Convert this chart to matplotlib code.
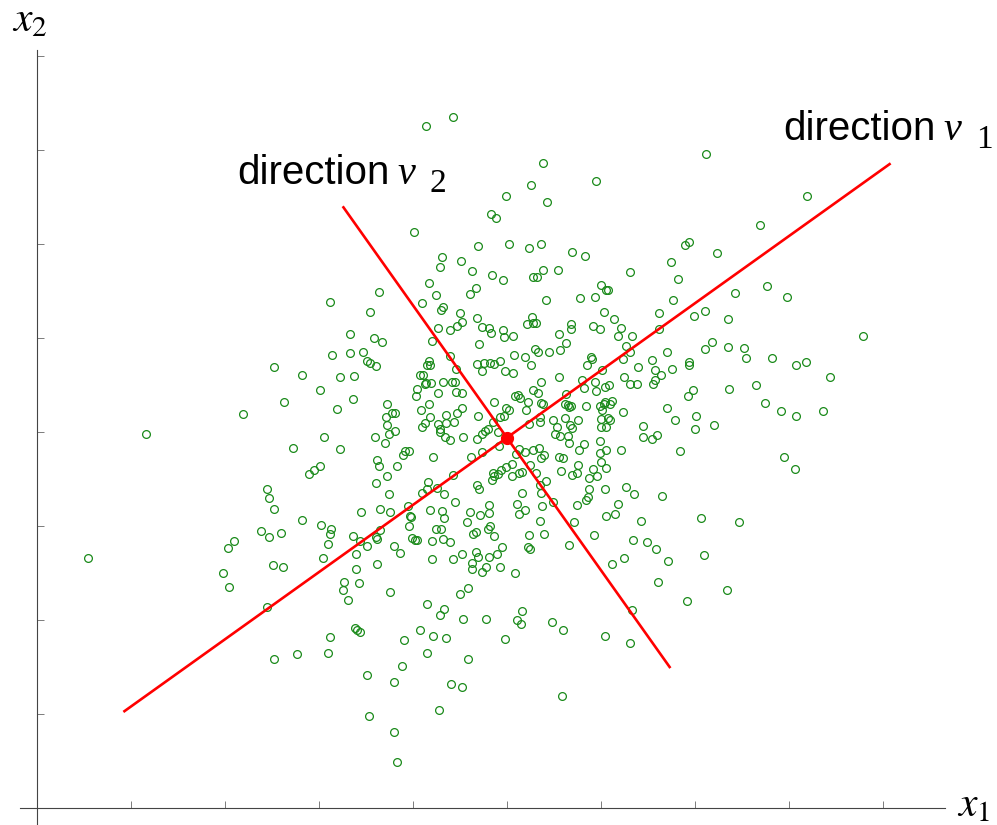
import numpy as np
import matplotlib.pyplot as plt

plt.rcParams['font.family'] = ['Liberation Sans', 'DejaVu Sans']
plt.rcParams['mathtext.fontset'] = 'stix'

# scatter sample (x1, x2), tick spacing = 1 unit
x1 = [4.14, 4.43, 4.01, 4.31, 4.51, 4.29, 4.17, 4.63, 3.64, 3.12, 3.54, 4.10, 4.24, 4.61, 4.32, 4.30, 4.50, 4.52, 4.47, 4.27, 4.39,
      5.38, 5.95, 5.26, 5.43, 4.99, 4.83, 4.88, 4.69, 5.02, 5.23, 5.36, 5.69, 5.83, 6.31, 6.74, 4.84, 4.96, 5.28, 5.32, 5.38, 5.54,
      4.67, 6.00, 6.05, 6.07, 5.94, 5.78, 5.41, 6.03, 6.14, 6.62, 6.77, 4.68, 5.27, 5.21, 5.28, 5.31, 4.73, 4.81, 4.96, 5.68, 5.68,
      5.91, 5.99, 6.21, 6.62,
      7.12, 8.19, 7.69, 6.89, 6.94, 7.23, 6.82, 7.43, 7.77, 7.98, 6.99, 7.11, 7.35,
      1.16, 2.19, 2.45, 2.47, 2.38, 2.47, 2.10, 2.03, 0.54, 1.98, 2.04, 2.45,
      2.51, 2.62, 3.39, 3.62, 3.27, 3.26, 3.43, 3.31, 3.76, 4.50, 4.59, 4.15, 4.33, 4.29, 4.53, 3.38, 3.40, 3.44, 3.12, 3.90, 4.07,
      4.21, 4.35, 2.52, 2.77, 3.10, 4.15, 3.88, 3.51, 3.80, 4.59, 4.40, 4.52, 4.28, 3.53, 3.80, 3.83,
      4.63, 4.63, 4.78, 4.93, 4.73, 5.09, 6.12, 6.24, 6.71, 6.61, 6.33, 6.31, 6.04, 5.16, 5.11, 5.15, 4.78, 5.48, 5.60, 4.98, 5.59,
      7.34, 6.91,
      8.79, 7.18, 7.11, 7.35, 7.52, 7.54, 7.82, 8.07, 8.18, 8.44, 6.94, 6.94, 6.76, 6.98, 6.93, 7.36, 7.65, 7.74, 7.91, 8.07, 8.36,
      6.79, 7.01, 7.00, 7.20, 6.84, 7.95, 8.06, 7.06, 7.47, 7.10,
      3.33, 3.59, 3.67, 4.20, 3.14, 3.33, 3.47, 3.51, 3.54, 3.61, 2.52, 2.82, 3.22, 3.37, 3.01, 3.36, 2.63, 3.19, 4.39, 4.17, 4.18,
      4.15, 4.46, 4.07, 4.11, 4.14, 4.13, 4.19, 4.32, 4.41, 4.45, 4.04, 4.27, 4.46, 4.52, 4.03, 4.17, 3.72, 3.78, 3.81, 4.09, 4.18,
      4.52, 4.35, 4.47, 3.71, 3.72, 3.81, 3.74, 4.13, 4.10, 4.27, 4.35, 4.44, 4.29, 4.29, 4.34, 4.39, 4.53, 3.05, 3.60, 3.70, 2.72,
      3.22, 3.89, 3.91, 3.96, 4.21, 4.62, 3.62, 3.64, 3.83, 3.01, 2.95, 2.89, 3.72, 3.61, 4.16, 4.15, 4.10, 4.26, 4.33, 4.43, 3.74,
      4.45, 2.52, 3.95, 4.18, 4.31, 4.33, 4.61, 3.65, 3.76, 3.45, 3.97, 3.98, 3.96, 4.57, 2.82, 3.02, 3.13, 3.12, 2.60, 3.65, 4.24,
      4.30, 3.36, 3.61, 3.62, 3.99, 4.02, 4.04, 4.20, 4.32, 4.39, 3.44, 3.10, 3.51, 3.80, 3.86, 3.39, 3.04, 4.20, 4.43, 4.52,
      4.70, 4.83, 4.97, 5.06, 5.55, 5.63, 5.56, 5.45, 5.30, 5.33, 5.19, 5.07, 5.26, 4.68, 4.76, 4.82, 4.86, 4.93, 4.73, 4.98, 5.06,
      6.18, 6.33, 6.27, 6.31, 5.89, 5.90, 5.85, 6.23, 6.01, 5.55, 5.80, 5.94, 6.24, 6.31, 6.38, 6.54, 6.70, 6.39, 6.57, 6.64, 6.57,
      6.55, 5.36, 5.28, 5.33, 5.82, 5.95, 6.04, 6.09, 5.09, 5.12, 5.14, 4.86, 5.22, 5.36, 5.38, 5.63, 5.62, 5.65, 5.68, 5.66, 5.84,
      5.99, 6.03, 6.04, 6.12, 6.10, 6.01, 6.23, 6.70, 4.99, 5.02, 5.20, 4.69, 4.93, 4.97, 5.35, 4.85, 5.49, 5.62, 5.76, 6.00, 6.07,
      6.10, 5.23, 5.35, 5.67, 5.69, 5.53, 6.00, 6.05, 4.80, 4.77, 4.73, 4.68, 4.90, 5.51, 5.56, 5.65, 6.45, 6.45, 6.54, 6.60, 5.99,
      5.66, 5.82, 4.91, 6.05, 6.21, 5.77, 5.13, 5.19, 5.28, 5.34, 5.10, 5.39, 5.36, 5.55, 5.60, 5.99, 6.00, 4.73, 5.24, 5.76, 6.05,
      4.99, 4.94, 5.05, 4.90, 4.85, 4.86, 5.05, 5.13, 5.16, 5.31, 5.57, 5.69, 5.74, 5.91, 5.96, 5.87, 5.41, 5.35, 4.84, 4.68, 4.70,
      5.16, 5.36, 5.86, 5.84, 5.87, 6.04, 6.27, 6.35, 6.65, 5.49, 5.11, 4.81, 5.37, 5.74, 6.18, 5.19, 5.13, 4.71, 4.81, 6.15, 6.05,
      6.43, 5.35, 5.71, 4.82, 4.80, 4.67, 4.64, 4.86, 5.39, 5.23, 5.93, 6.34, 6.49, 6.59, 5.66, 5.22, 5.24, 4.95, 4.89, 4.81, 4.69,
      4.67]
x2 = [7.26, 7.35, 6.13, 5.86, 5.82, 5.76, 5.59, 5.71, 5.49, 5.38, 5.28, 5.37, 5.46, 5.47, 5.33, 5.30, 5.27, 5.17, 5.13, 5.11, 5.09,
      6.86, 6.67, 6.63, 6.45, 6.51, 6.32, 6.28, 5.98, 6.00, 5.96, 6.00, 5.91, 5.87, 5.70, 5.81, 5.67, 5.62, 5.65, 5.65, 5.72, 5.72,
      5.53, 5.56, 5.51, 5.51, 5.44, 5.43, 5.40, 5.28, 5.20, 5.27, 5.40, 5.21, 5.22, 5.15, 5.16, 5.16, 5.12, 5.11, 5.09, 5.15, 5.10,
      5.13, 5.10, 5.11, 5.10,
      6.96, 6.51, 6.20, 5.99, 6.02, 5.90, 5.63, 5.48, 5.55, 5.44, 5.23, 5.29, 5.20,
      3.98, 4.19, 3.39, 3.30, 2.95, 2.88, 2.84, 2.77, 2.66, 2.50, 2.35, 2.14,
      2.59, 2.56, 2.54, 2.60, 2.40, 2.32, 2.39, 2.21, 2.30, 2.28, 2.34, 2.17, 2.12, 2.05, 2.01, 1.91, 1.89, 1.87, 1.82, 1.79, 1.89,
      1.83, 1.81, 1.59, 1.64, 1.65, 1.65, 1.51, 1.41, 1.34, 1.59, 1.32, 1.29, 1.04, 0.98, 0.81, 0.49,
      2.61, 2.54, 2.56, 2.56, 2.51, 2.50, 2.60, 2.66, 2.63, 2.40, 2.11, 1.76, 1.83, 2.10, 2.00, 1.96, 2.01, 1.98, 1.89, 1.80, 1.19,
      2.32, 2.20,
      5.02, 4.96, 4.88, 4.90, 4.89, 4.79, 4.79, 4.71, 4.74, 4.59, 4.74, 4.71, 4.67, 4.45, 4.38, 4.46, 4.50, 4.31, 4.22, 4.17, 4.22,
      4.13, 4.17, 4.03, 4.07, 3.80, 3.73, 3.61, 3.09, 3.04, 2.69,
      5.04, 5.00, 4.96, 4.97, 4.82, 4.84, 4.85, 4.76, 4.73, 4.70, 4.69, 4.61, 4.59, 4.60, 4.45, 4.35, 4.32, 4.24, 4.81, 4.76, 4.71,
      4.71, 4.67, 4.61, 4.61, 4.52, 4.51, 4.52, 4.53, 4.53, 4.53, 4.46, 4.41, 4.43, 4.41, 4.38, 4.30, 4.30, 4.20, 4.20, 4.23, 4.16,
      4.26, 4.18, 4.20, 4.16, 4.07, 4.01, 3.98, 4.10, 4.05, 4.09, 4.10, 4.11, 4.03, 4.00, 3.95, 3.91, 3.95, 3.95, 3.95, 3.88, 3.83,
      3.82, 3.76, 3.80, 3.80, 3.73, 3.73, 3.70, 3.64, 3.64, 3.64, 3.60, 3.55, 3.53, 3.46, 3.47, 3.39, 3.35, 3.40, 3.34, 3.54, 3.34,
      3.26, 3.18, 3.21, 3.17, 3.16, 3.09, 3.15, 3.18, 3.15, 3.15, 3.11, 3.10, 3.00, 3.04, 3.06, 3.01, 2.97, 2.91, 2.93, 2.96, 2.97,
      2.97, 2.89, 2.88, 2.86, 2.87, 2.85, 2.85, 2.84, 2.86, 2.83, 2.84, 2.81, 2.79, 2.79, 2.71, 2.70, 2.66, 2.65, 2.65, 2.70,
      4.94, 5.05, 5.01, 5.02, 5.04, 4.95, 4.87, 4.85, 4.88, 4.85, 4.80, 4.82, 4.71, 4.72, 4.73, 4.73, 4.72, 4.76, 4.65, 4.65, 4.63,
      5.02, 5.02, 4.91, 4.85, 4.80, 4.78, 4.71, 4.78, 4.66, 4.59, 4.55, 4.53, 4.59, 4.51, 4.51, 4.77, 4.85, 4.69, 4.66, 4.61, 4.55,
      4.51, 4.53, 4.45, 4.41, 4.47, 4.44, 4.48, 4.50, 4.38, 4.39, 4.36, 4.32, 4.32, 4.31, 4.30, 4.40, 4.30, 4.29, 4.28, 4.27, 4.28,
      4.28, 4.30, 4.32, 4.33, 4.30, 4.23, 4.21, 4.26, 4.26, 4.23, 4.23, 4.17, 4.16, 4.17, 4.16, 4.11, 4.13, 4.15, 4.13, 4.14, 4.15,
      4.13, 4.09, 4.11, 4.07, 4.04, 4.05, 4.05, 4.05, 4.03, 4.01, 3.98, 3.93, 4.00, 3.98, 3.96, 3.96, 4.06, 3.95, 3.93, 3.97, 3.90,
      3.88, 3.87, 3.85, 3.81, 3.81, 3.81, 3.82, 3.79, 3.81, 3.83, 3.77, 3.76, 3.72, 3.73, 3.72, 3.78, 3.68, 3.79, 3.65, 3.65, 3.62,
      3.63, 3.60, 3.66, 3.55, 3.56, 3.53, 3.53, 3.56, 3.57, 3.56, 3.59, 3.54, 3.56, 3.61, 3.53, 3.51, 3.48, 3.44, 3.49, 3.44, 3.39,
      3.35, 3.35, 3.31, 3.28, 3.39, 3.39, 3.41, 3.34, 3.32, 3.26, 3.23, 3.22, 3.21, 3.22, 3.23, 3.17, 3.13, 3.12, 3.14, 3.13, 3.11,
      3.05, 3.05, 3.04, 3.00, 2.97, 2.94, 2.91, 2.89, 2.91, 2.90, 2.90, 2.85, 2.83, 2.76, 2.80, 2.78, 2.76, 2.78, 2.70, 2.67, 2.67,
      2.72]

# sample mean and the two principal-direction segments (end points)
center = (5.00, 3.94)
v1_ends_x = [0.93, 9.07]
v1_ends_y = [1.03, 6.85]
v2_ends_x = [3.26, 6.73]
v2_ends_y = [6.39, 1.50]

fig = plt.figure(figsize=(9.97, 8.25), dpi=100)
ax = fig.add_axes([0, 0, 1, 1])
ax.set_xlim(-0.394, 10.213)
ax.set_ylim(-0.181, 8.596)

ax.plot(x1, x2, 'o', ls='none', mfc='none', mec='#1a8a1a', ms=5.6, mew=0.9, zorder=2)
ax.plot(v1_ends_x, v1_ends_y, color='red', lw=1.9, zorder=3)
ax.plot(v2_ends_x, v2_ends_y, color='red', lw=1.9, zorder=3)
ax.plot(*center, 'o', color='red', ms=8.5, zorder=4)

# axes through the origin, Mathematica style
for s in ['top', 'right']:
    ax.spines[s].set_visible(False)
ax.spines['left'].set_position(('data', 0))
ax.spines['bottom'].set_position(('data', 0))
ax.spines['left'].set_bounds(-0.18, 8.06)
ax.spines['bottom'].set_bounds(-0.18, 9.66)
for s in ['left', 'bottom']:
    ax.spines[s].set_color('#444444')
    ax.spines[s].set_linewidth(0.8)
ax.set_xticks(range(1, 10))
ax.set_yticks(range(1, 9))
ax.tick_params(direction='in', length=5, width=0.6, color='#666666',
               labelbottom=False, labelleft=False)

ax.text(9.79, 0.03, r'$x_1$', fontsize=30, ha='left', va='center')
ax.text(-0.27, 8.38, r'$x_2$', fontsize=30, ha='left', va='center')

# direction labels: sans word, serif italic v, large subscript
serif = ['Liberation Serif', 'DejaVu Serif']
ax.text(7.94, 7.106, 'direction', fontsize=29, ha='left', va='baseline')
ax.text(9.64, 7.106, 'v', fontsize=29, family=serif, style='italic', ha='left', va='baseline')
ax.text(9.99, 7.021, '1', fontsize=24, family=serif, ha='left', va='baseline')
ax.text(2.128, 6.638, 'direction', fontsize=29, ha='left', va='baseline')
ax.text(3.83, 6.638, 'v', fontsize=29, family=serif, style='italic', ha='left', va='baseline')
ax.text(4.18, 6.553, '2', fontsize=24, family=serif, ha='left', va='baseline')

fig.savefig('out.png', dpi=100)
